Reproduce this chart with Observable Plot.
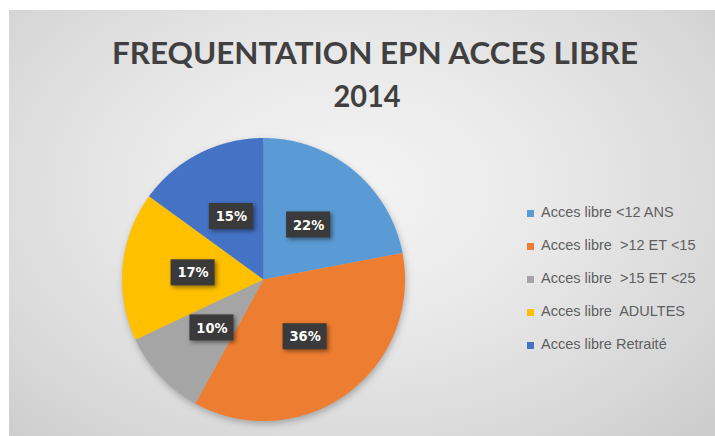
<!DOCTYPE html>
<html><head><meta charset="utf-8">
<script src="https://cdn.jsdelivr.net/npm/d3@7"></script>
<script src="https://cdn.jsdelivr.net/npm/@observablehq/plot@0.6"></script>
<style>
html,body{margin:0;padding:0;background:#fff;}
#wrap{position:relative;width:715px;height:436px;overflow:hidden;background:#fff;}
#frame{position:absolute;left:9px;top:10px;width:706px;height:426px;
  background:radial-gradient(ellipse 70% 80% at 48% 42%, #f4f4f4 0%, #e9e9e9 40%, #d8d8d8 80%, #cdcdcd 100%);}
#title{position:absolute;left:0;top:0;}
#chart{position:absolute;left:0;top:0;}
.leg{position:absolute;left:541px;font:14.5px "Liberation Sans", Arial, sans-serif;color:#5f5f5f;white-space:pre;line-height:15px;}
.sw{position:absolute;left:527px;width:7px;height:7px;}
</style></head><body>
<div id="wrap">
  <div id="frame"></div>
  <svg id="title" width="715" height="130">
    <text x="375" y="64" text-anchor="middle" font-family="Lato, 'Open Sans', sans-serif" font-weight="bold" font-size="31" fill="#404040" textLength="526" lengthAdjust="spacingAndGlyphs">FREQUENTATION EPN ACCES LIBRE</text>
    <text x="367" y="107" text-anchor="middle" font-family="Lato, 'Open Sans', sans-serif" font-weight="bold" font-size="31" fill="#404040" textLength="67" lengthAdjust="spacingAndGlyphs">2014</text>
  </svg>
  <div id="chart"></div>
  <div id="legend"></div>
</div>
<script>
const categories = ["Acces libre <12 ANS", "Acces libre  >12 ET <15", "Acces libre  >15 ET <25", "Acces libre  ADULTES", "Acces libre Retraité"];
const values = [22, 36, 10, 17, 15];
const colors = ["#5B9BD5", "#ED7D31", "#A5A5A5", "#FFC000", "#4472C4"];

const total = d3.sum(values);
let acc = 0;
const slicePts = [];
const labelData = [];
categories.forEach((c, i) => {
  const a0 = acc / total * 2 * Math.PI; acc += values[i];
  const a1 = acc / total * 2 * Math.PI;
  slicePts.push({cat: c, x: 0, y: 0});
  const n = Math.max(2, Math.ceil((a1 - a0) / (Math.PI / 360)));
  for (let k = 0; k <= n; k++) {
    const a = a0 + (a1 - a0) * k / n;
    slicePts.push({cat: c, x: Math.sin(a), y: Math.cos(a)});
  }
  slicePts.push({cat: c, x: 0, y: 0});
  const am = (a0 + a1) / 2;
  labelData.push({cat: c, label: values[i] + "%", x: 0.5 * Math.sin(am), y: 0.5 * Math.cos(am)});
});

const R = 141.5;
const bw = 22 / R, bh = 13 / R;

const chart = Plot.plot({
  width: 715, height: 436, margin: 0,
  x: {domain: [-1, 1], range: [263 - R, 263 + R], axis: null},
  y: {domain: [-1, 1], range: [279 + R, 279 - R], axis: null},
  color: {domain: categories, range: colors},
  style: {background: "transparent", overflow: "visible"},
  marks: [
    Plot.line(slicePts, {x: "x", y: "y", z: "cat", fill: "cat", stroke: "none"}),
    Plot.rect(labelData, {x1: d => d.x - bw, x2: d => d.x + bw, y1: d => d.y - bh, y2: d => d.y + bh, fill: "#3a3a3a"}),
    Plot.text(labelData, {x: "x", y: "y", text: "label", fill: "white", fontWeight: "bold", fontSize: 14.5,
      fontFamily: "'DejaVu Sans Condensed', 'Liberation Sans Narrow', sans-serif"})
  ]
});
document.getElementById("chart").appendChild(chart);
d3.select(chart).select("g[aria-label=line]").style("filter", "drop-shadow(1px 3px 3px rgba(0,0,0,0.25))");
d3.select(chart).selectAll("g[aria-label=rect] rect").style("filter", "drop-shadow(2px 2px 2px rgba(0,0,0,0.45))");

const legend = document.getElementById("legend");
const legY = [213, 246, 279, 312, 345];
categories.forEach((c, i) => {
  const sw = document.createElement("div");
  sw.className = "sw"; sw.style.background = colors[i]; sw.style.top = (legY[i] - 3.5) + "px";
  legend.appendChild(sw);
  const t = document.createElement("div");
  t.className = "leg"; t.textContent = c; t.style.top = (legY[i] - 8) + "px";
  legend.appendChild(t);
});
</script>
</body></html>
